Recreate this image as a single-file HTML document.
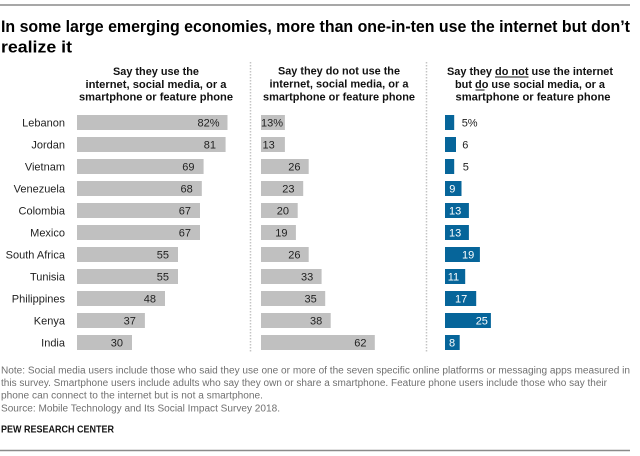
<!DOCTYPE html>
<html><head><meta charset="utf-8">
<style>
html,body{margin:0;padding:0;background:#fff;}
svg{display:block;font-family:"Liberation Sans",Arial,sans-serif;}
</style></head>
<body>
<svg width="640" height="456" viewBox="0 0 640 456" xmlns="http://www.w3.org/2000/svg">
<rect width="640" height="456" fill="#fff"/>
<line x1="0" y1="5" x2="630" y2="5" stroke="#8a8a8a" stroke-width="1.5"/>
<text x="1" y="32" font-size="16.5" font-weight="bold" fill="#000" textLength="629" lengthAdjust="spacingAndGlyphs">In some large emerging economies, more than one-in-ten use the internet but don’t</text>
<text x="1" y="52.3" font-size="16.5" font-weight="bold" fill="#000" textLength="71" lengthAdjust="spacingAndGlyphs">realize it</text>

<g font-size="11" font-weight="bold" fill="#111" text-anchor="middle">
<text x="156" y="75" textLength="86" lengthAdjust="spacingAndGlyphs">Say they use the</text>
<text x="156" y="88" textLength="141" lengthAdjust="spacingAndGlyphs">internet, social media, or a</text>
<text x="156" y="100.5" textLength="154" lengthAdjust="spacingAndGlyphs">smartphone or feature phone</text>
<text x="339" y="74.5" textLength="122" lengthAdjust="spacingAndGlyphs">Say they do not use the</text>
<text x="339" y="87.5" textLength="139" lengthAdjust="spacingAndGlyphs">internet, social media, or a</text>
<text x="339" y="100.5" textLength="152" lengthAdjust="spacingAndGlyphs">smartphone or feature phone</text>
<text x="530" y="75" textLength="166" lengthAdjust="spacingAndGlyphs">Say they do not use the internet</text>
<text x="530" y="88" textLength="150" lengthAdjust="spacingAndGlyphs">but do use social media, or a</text>
<text x="533" y="100.5" textLength="155" lengthAdjust="spacingAndGlyphs">smartphone or feature phone</text>
</g>
<line x1="495" y1="77" x2="528.5" y2="77" stroke="#111" stroke-width="1"/>
<line x1="475.5" y1="90" x2="484.5" y2="90" stroke="#111" stroke-width="1"/>

<g stroke="#c4c4c4" stroke-width="1.5" stroke-dasharray="1.5 1.5">
<line x1="250.5" y1="62" x2="250.5" y2="353"/>
<line x1="426.5" y1="62" x2="426.5" y2="353"/>
</g>

<g font-size="11" fill="#222" text-anchor="end">
<text x="65" y="126.5">Lebanon</text>
<text x="65" y="148.5">Jordan</text>
<text x="65" y="170.5">Vietnam</text>
<text x="65" y="192.5">Venezuela</text>
<text x="65" y="214.5">Colombia</text>
<text x="65" y="236.5">Mexico</text>
<text x="65" y="258.5">South Africa</text>
<text x="65" y="280.5">Tunisia</text>
<text x="65" y="302.5">Philippines</text>
<text x="65" y="324.5">Kenya</text>
<text x="65" y="346.5">India</text>
</g>

<!-- Column 1 -->
<g fill="#c0c0c0">
<rect x="77" y="115" width="150.5" height="15"/>
<rect x="77" y="137" width="148.6" height="15"/>
<rect x="77" y="159" width="126.6" height="15"/>
<rect x="77" y="181" width="124.8" height="15"/>
<rect x="77" y="203" width="123" height="15"/>
<rect x="77" y="225" width="123" height="15"/>
<rect x="77" y="247" width="101" height="15"/>
<rect x="77" y="269" width="101" height="15"/>
<rect x="77" y="291" width="88" height="15"/>
<rect x="77" y="313" width="67.9" height="15"/>
<rect x="77" y="335" width="55" height="15"/>
</g>
<g font-size="11" fill="#222" text-anchor="end">
<text x="219.5" y="126.5">82%</text>
<text x="216" y="148.5">81</text>
<text x="194.5" y="170.5">69</text>
<text x="192.8" y="192.5">68</text>
<text x="191" y="214.5">67</text>
<text x="191" y="236.5">67</text>
<text x="169" y="258.5">55</text>
<text x="169" y="280.5">55</text>
<text x="156" y="302.5">48</text>
<text x="135.9" y="324.5">37</text>
<text x="123" y="346.5">30</text>
</g>

<!-- Column 2 -->
<g fill="#c0c0c0">
<rect x="261" y="115" width="23.9" height="15"/>
<rect x="261" y="137" width="23.9" height="15"/>
<rect x="261" y="159" width="47.7" height="15"/>
<rect x="261" y="181" width="42.2" height="15"/>
<rect x="261" y="203" width="36.7" height="15"/>
<rect x="261" y="225" width="34.9" height="15"/>
<rect x="261" y="247" width="47.7" height="15"/>
<rect x="261" y="269" width="60.6" height="15"/>
<rect x="261" y="291" width="64.2" height="15"/>
<rect x="261" y="313" width="69.7" height="15"/>
<rect x="261" y="335" width="113.8" height="15"/>
</g>
<g font-size="11" fill="#222">
<text x="261" y="126.5">13%</text>
<text x="262.5" y="148.5">13</text>
<g text-anchor="end">
<text x="300.5" y="170.5">26</text>
<text x="294.5" y="192.5">23</text>
<text x="289" y="214.5">20</text>
<text x="287.5" y="236.5">19</text>
<text x="300.5" y="258.5">26</text>
<text x="313.3" y="280.5">33</text>
<text x="316.8" y="302.5">35</text>
<text x="322.3" y="324.5">38</text>
<text x="366.5" y="346.5">62</text>
</g>
</g>

<!-- Column 3 -->
<g fill="#06659a">
<rect x="445" y="115" width="9.2" height="15"/>
<rect x="445" y="137" width="11" height="15"/>
<rect x="445" y="159" width="9.2" height="15"/>
<rect x="445" y="181" width="16.5" height="15"/>
<rect x="445" y="203" width="23.9" height="15"/>
<rect x="445" y="225" width="23.9" height="15"/>
<rect x="445" y="247" width="34.9" height="15"/>
<rect x="445" y="269" width="20.2" height="15"/>
<rect x="445" y="291" width="31.2" height="15"/>
<rect x="445" y="313" width="45.9" height="15"/>
<rect x="445" y="335" width="14.7" height="15"/>
</g>
<g font-size="11" fill="#222">
<text x="461.7" y="126.5">5%</text>
<text x="462.3" y="148.5">6</text>
<text x="462.7" y="170.5">5</text>
</g>
<g font-size="11" fill="#fff">
<text x="449.3" y="192.5">9</text>
<text x="449" y="214.5">13</text>
<text x="449" y="236.5">13</text>
<text x="462" y="258.5">19</text>
<text x="447.7" y="280.5">11</text>
<text x="455" y="302.5">17</text>
<text x="475.7" y="324.5">25</text>
<text x="449" y="346.5">8</text>
</g>

<!-- Footer -->
<g font-size="10" fill="#707070" lengthAdjust="spacingAndGlyphs">
<text x="1" y="373.3" textLength="629" lengthAdjust="spacingAndGlyphs">Note: Social media users include those who said they use one or more of the seven specific online platforms or messaging apps measured in</text>
<text x="1" y="386" textLength="606" lengthAdjust="spacingAndGlyphs">this survey. Smartphone users include adults who say they own or share a smartphone. Feature phone users include those who say their</text>
<text x="1" y="398.7" textLength="262" lengthAdjust="spacingAndGlyphs">phone can connect to the internet but is not a smartphone.</text>
<text x="1" y="411.4" textLength="279" lengthAdjust="spacingAndGlyphs">Source: Mobile Technology and Its Social Impact Survey 2018.</text>
</g>
<text x="1" y="432.3" font-size="10" font-weight="bold" fill="#111" textLength="113" lengthAdjust="spacingAndGlyphs">PEW RESEARCH CENTER</text>
<line x1="0" y1="450.5" x2="630" y2="450.5" stroke="#8a8a8a" stroke-width="1.5"/>
</svg>
</body></html>
